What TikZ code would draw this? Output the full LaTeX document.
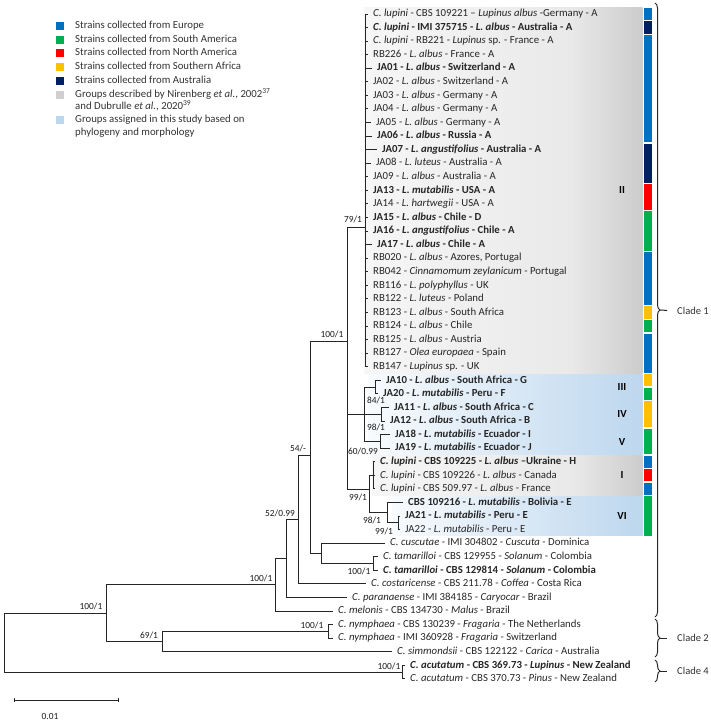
\documentclass[tikz,border=0pt]{standalone}
\usepackage{fontspec}
\setmainfont{Carlito}
\usetikzlibrary{arrows.meta,decorations.pathreplacing}
\definecolor{eucol}{HTML}{0070C0}
\definecolor{sacol}{HTML}{00B050}
\definecolor{nacol}{HTML}{FF0000}
\definecolor{afcol}{HTML}{FFC000}
\definecolor{aucol}{HTML}{002060}
\definecolor{grpgrey}{HTML}{D0CECE}
\definecolor{grpblue}{HTML}{BDD7EE}
\pgfdeclarehorizontalshading{greyfade}{100bp}{color(0bp)=(gray!7); color(25bp)=(gray!7); color(62bp)=(gray!17); color(75bp)=(gray!40); color(100bp)=(gray!40)}
\pgfdeclarehorizontalshading{bluefade}{100bp}{color(0bp)=(grpblue!10); color(25bp)=(grpblue!10); color(75bp)=(grpblue); color(100bp)=(grpblue)}
\pgfmathdeclarefunction{rowy}{1}{\pgfmathparse{14+13.57*(#1-1)}}

\begin{document}
\begin{tikzpicture}[x=0.03cm,y=-0.03cm,
  branch/.style={line width=0.85pt,black!85},
  tip/.style={anchor=west,inner xsep=0.15cm,inner ysep=0pt,text height=6.5pt,text depth=2pt,font=\fontsize{9.2}{11}\selectfont,text=black!85},
  bs/.style={font=\fontsize{8}{9}\selectfont,inner sep=0pt,text=black!90},
  grp/.style={font=\fontsize{9.2}{11}\selectfont\bfseries,inner sep=0pt},
  legtxt/.style={anchor=west,inner sep=0pt,text height=6.5pt,text depth=2pt,font=\fontsize{9.2}{11}\selectfont,text=black!80},
  legsq/.style={minimum size=0.24cm,inner sep=0pt},
  clade/.style={anchor=west,inner sep=0pt,font=\fontsize{9}{11}\selectfont,text=black!80}]
\useasboundingbox (0,0) rectangle (711,722);

% legend
\foreach \i/\y/\c/\t in {1/26/eucol/{Strains collected from Europe},
  2/40/sacol/{Strains collected from South America},
  3/53/nacol/{Strains collected from North America},
  4/67/afcol/{Strains collected from Southern Africa},
  5/81/aucol/{Strains collected from Australia},
  6/95/grpgrey/{Groups described by Nirenberg \textit{et al.}, 2002\textsuperscript{37}},
  7/120/grpblue/{Groups assigned in this study based on}}{
  \node[legsq,fill=\c] (q\i) at (60,\y) {};
  \node[legtxt] (g\i) at (75,\y) {\t};
}
\node[legtxt] (g6b) at (75,107) {and Dubrulle \textit{et al.}, 2020\textsuperscript{39}};
\node[legtxt] (g7b) at (75,133) {phylogeny and morphology};

% shaded groups
\foreach \a/\b/\x/\s in {1/27/364/greyfade,28/29/368/bluefade,30/31/368/bluefade,
  32/33/368/bluefade,34/36/372/greyfade,37/39/392/bluefade}
  \shade[shading=\s] (\x,{rowy(\a)-6.2}) rectangle (642.5,{rowy(\b)+6.2});

% origin bars
\foreach \a/\b/\c in {1/1/eucol,2/2/aucol,3/10/eucol,11/13/aucol,14/15/nacol,16/18/sacol,
  19/22/eucol,23/23/afcol,24/24/sacol,25/27/eucol,28/28/afcol,29/29/sacol,30/31/afcol,
  32/33/sacol,34/34/eucol,35/35/nacol,36/36/eucol,37/39/sacol}
  \fill[\c] (644,{rowy(\a)-6.1}) rectangle (652,{rowy(\b)+6.1});

\node[grp] (gII) at (622,{rowy(14)}) {II};
\node[grp] (gIII) at (622,387.2) {III};
\node[grp] (gIV) at (622,414.3) {IV};
\node[grp] (gV) at (622,441.5) {V};
\node[grp] (gI) at (622,{rowy(35)}) {I};
\node[grp] (gVI) at (622,{rowy(38)}) {VI};

% internal nodes
\coordinate (root) at (4,642.7);
\coordinate (nA) at (106,613.3);
\coordinate (nK) at (402,672.2);
\coordinate (nB) at (275,584.9);
\coordinate (nI) at (162,641.6);
\coordinate (nJ) at (328,631.5);
\coordinate (nC) at (286,558.7);
\coordinate (nD) at (298,519.9);
\coordinate (nE) at (310,455.7);
\coordinate (nG) at (321,553.4);
\coordinate (nH) at (373,563.6);
\coordinate (nF) at (347,341);
\coordinate (nII) at (365,227);
\coordinate (n60) at (364,414.3);
\coordinate (n84) at (375,387.2);
\coordinate (n98) at (381,414.3);
\coordinate (n18) at (380,441.5);
\coordinate (n99) at (369,489);
\coordinate (nGI) at (373,475.4);
\coordinate (nVI) at (387,512.7);
\coordinate (n99b) at (398,522.9);

\foreach \p/\q in {root/nA,root/nK,nA/nB,nA/nI,nB/nC,nC/nD,nD/nE,nE/nF,nE/nG,nG/nH,
  nI/nJ,nF/nII,nF/n60,nF/n99,n60/n84,n60/n98,n60/n18,n99/nGI,n99/nVI,nVI/n99b}
  \draw[branch] (\p) |- (\q);

% tips
\foreach \r/\up/\bx/\txt in {
  1/nII/368/{\textit{C. lupini} - CBS 109221 – \textit{Lupinus albus} -Germany - A},
  2/nII/368/{\bfseries\textit{C. lupini} - IMI 375715 - \textit{L. albus} - Australia - A},
  3/nII/368/{\textit{C. lupini} - RB221 - \textit{Lupinus} sp. - France - A},
  4/nII/368/{RB226 - \textit{L. albus} - France - A},
  5/nII/372/{\bfseries JA01 - \textit{L. albus} - Switzerland - A},
  6/nII/368/{JA02 - \textit{L. albus} - Switzerland - A},
  7/nII/368/{JA03 - \textit{L. albus} - Germany - A},
  8/nII/368/{JA04 - \textit{L. albus} - Germany - A},
  9/nII/371/{JA05 - \textit{L. albus} - Germany - A},
  10/nII/372/{\bfseries JA06 - \textit{L. albus} - Russia - A},
  11/nII/377/{\bfseries JA07 - \textit{L. angustifolius} - Australia - A},
  12/nII/371/{JA08 - \textit{L. luteus} - Australia - A},
  13/nII/368/{JA09 - \textit{L. albus} - Australia - A},
  14/nII/368/{\bfseries JA13 - \textit{L. mutabilis} - USA - A},
  15/nII/368/{JA14 - \textit{L. hartwegii} - USA - A},
  16/nII/368/{\bfseries JA15 - \textit{L. albus} - Chile - D},
  17/nII/368/{\bfseries JA16 - \textit{L. angustifolius} - Chile - A},
  18/nII/372/{\bfseries JA17 - \textit{L. albus} - Chile - A},
  19/nII/368/{RB020 - \textit{L. albus} - Azores, Portugal},
  20/nII/368/{RB042 - \textit{Cinnamomum zeylanicum} - Portugal},
  21/nII/368/{RB116 - \textit{L. polyphyllus} - UK},
  22/nII/368/{RB122 - \textit{L. luteus} - Poland},
  23/nII/368/{RB123 - \textit{L. albus} - South Africa},
  24/nII/368/{RB124 - \textit{L. albus} - Chile},
  25/nII/368/{RB125 - \textit{L. albus} - Austria},
  26/nII/368/{RB127 - \textit{Olea europaea} - Spain},
  27/nII/368/{RB147 - \textit{Lupinus} sp. - UK},
  28/n84/381/{\bfseries JA10 - \textit{L. albus} - South Africa - G},
  29/n84/378/{\bfseries JA20 - \textit{L. mutabilis} - Peru - F},
  30/n98/389/{\bfseries JA11 - \textit{L. albus} - South Africa - C},
  31/n98/385/{\bfseries JA12 - \textit{L. albus} - South Africa - B},
  32/n18/390/{\bfseries JA18 - \textit{L. mutabilis} - Ecuador - I},
  33/n18/390/{\bfseries JA19 - \textit{L. mutabilis} - Ecuador - J},
  34/nGI/375/{\bfseries\textit{C. lupini} - CBS 109225 - \textit{L. albus} –Ukraine - H},
  35/nGI/375/{\textit{C. lupini} - CBS 109226 - \textit{L. albus} - Canada},
  36/nGI/375/{\textit{C. lupini} - CBS 509.97 - \textit{L. albus} - France},
  37/nVI/403/{\bfseries CBS 109216 - \textit{L. mutabilis} - Bolivia - E},
  38/n99b/400/{\bfseries JA21 - \textit{L. mutabilis} - Peru - E},
  39/n99b/400/{JA22 - \textit{L. mutabilis} - Peru - E},
  40/nG/385/{\textit{C. cuscutae} - IMI 304802 - \textit{Cuscuta} - Dominica},
  41/nH/378/{\textit{C. tamarilloi} - CBS 129955 - \textit{Solanum} - Colombia},
  42/nH/378/{\bfseries\textit{C. tamarilloi} - CBS 129814 - \textit{Solanum} - Colombia},
  43/nD/366/{\textit{C. costaricense} - CBS 211.78 - \textit{Coffea} - Costa Rica},
  44/nC/347/{\textit{C. paranaense} - IMI 384185 - \textit{Caryocar} - Brazil},
  45/nB/333/{\textit{C. melonis} - CBS 134730 - \textit{Malus} - Brazil},
  46/nJ/333/{\textit{C. nymphaea} - CBS 130239 - \textit{Fragaria} - The Netherlands},
  47/nJ/333/{\textit{C. nymphaea} - IMI 360928 - \textit{Fragaria} - Switzerland},
  48/nI/392/{\textit{C. simmondsii} - CBS 122122 - \textit{Carica} - Australia},
  49/nK/405/{\bfseries\textit{C. acutatum} - CBS 369.73 - \textit{Lupinus} - New Zealand},
  50/nK/405/{\textit{C. acutatum} - CBS 370.73 - \textit{Pinus} - New Zealand}}{
  \node[tip] (t\r) at (\bx,{rowy(\r)}) {\txt};
  \draw[branch] (\up) |- (t\r.west);
}

% support values
\node[bs] (l79) at (353,219) {79/1};
\node[bs] (lF) at (332,334) {100/1};
\node[bs] (lE) at (298,448) {54/-};
\node[bs] (lD) at (280,513) {52/0.99};
\node[bs] (lB) at (261,578) {100/1};
\node[bs] (lA) at (91,606) {100/1};
\node[bs] (lI) at (149,635) {69/1};
\node[bs] (lJ) at (312,625) {100/1};
\node[bs] (lH) at (359,571) {100/1};
\node[bs] (lK) at (389,666) {100/1};
\node[bs] (l84) at (376,400) {84/1};
\node[bs] (l98) at (376,427) {98/1};
\node[bs] (l60) at (363,451) {60/0.99};
\node[bs] (l99) at (358,497) {99/1};
\node[bs] (lVI) at (372,520) {98/1};
\node[bs] (l99b) at (384,531) {99/1};

% clades
\draw[branch,decorate,decoration={brace,amplitude=0.15cm}] (655,3) -- (655,617);
\draw[branch,decorate,decoration={brace,amplitude=0.15cm}] (655,619) -- (655,657);
\draw[branch,decorate,decoration={brace,amplitude=0.15cm}] (655,660) -- (655,682);
\coordinate (b1) at (660,310);
\coordinate (b2) at (660,638);
\coordinate (b4) at (660,671);
\node[clade] (c1) at (677,311) {Clade 1};
\node[clade] (c2) at (677,638) {Clade 2};
\node[clade] (c4) at (677,671) {Clade 4};
\foreach \b/\c in {b1/c1,b2/c2,b4/c4}
  \draw[branch,shorten >=0.3cm] (\b) -- (\c.west);

% scale
\coordinate (sb0) at (14,700);
\coordinate (sb1) at (119,700);
\draw[branch,{Bar[width=1.4mm]}-{Bar[width=1.4mm]}] (sb0) -- (sb1);
\node[bs] (sbl) at (50,716) {0.01};
\end{tikzpicture}
\end{document}
